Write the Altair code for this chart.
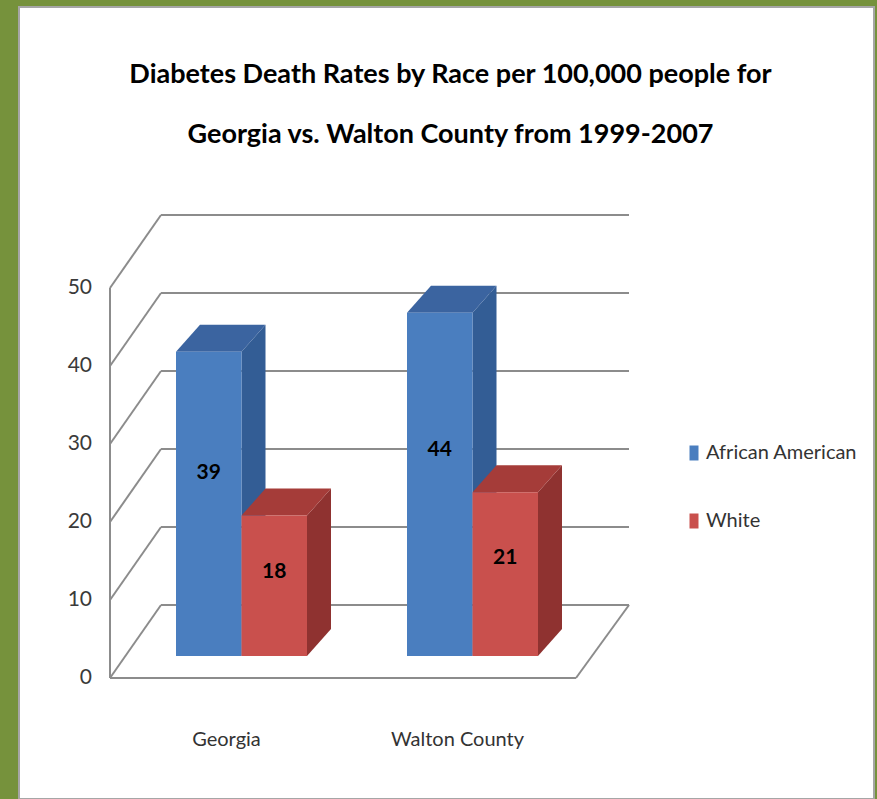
import altair as alt
import pandas as pd

# ---- data -------------------------------------------------------------
regions = ["Georgia", "Walton County"]
races = ["African American", "White"]
african_american = [39, 44]
white = [18, 21]
y_ticks = [0, 10, 20, 30, 40, 50]
title_lines = [
    "Diabetes Death Rates by Race per 100,000 people for",
    "Georgia vs. Walton County from 1999-2007",
]

# ---- colours ----------------------------------------------------------
FRONT = {"African American": "#4A7EBF", "White": "#C9504D"}
TOP = {"African American": "#3B64A0", "White": "#A53C39"}
SIDE = {"African American": "#335D95", "White": "#8F3230"}
GREEN = "#76923C"
LINE = "#8C8C8C"
FONT = "Lato"

# ---- canvas and pseudo-3D geometry (pixels / value units) -------------
PAD_L, PAD_T, PAD_R = 19, 7, 3
W, H = 877 - PAD_L - PAD_R, 799 - PAD_T
PX_PER_UNIT = 7.8
ZERO_Y = 671                      # row of value 0 on the front plane
Y_MAX = ZERO_Y / PX_PER_UNIT
Y_MIN = Y_MAX - H / PX_PER_UNIT

AXIS_X = 91                       # front-left edge of the box
FLOOR_RIGHT = 557                 # front-right corner of the floor
WALL_DX = 51                      # depth of the box, horizontal
WALL_DY = 73 / PX_PER_UNIT        # depth of the box, vertical
BAR_X0 = 157
GROUP_STEP = 231
BAR_W = 65.5
BAR_BASE = 22 / PX_PER_UNIT       # bars stand a little behind the floor edge
BAR_DX = 24                       # bar depth, horizontal
BAR_DY = 27 / PX_PER_UNIT         # bar depth, vertical
FRONT_SHIFT = 15
CAT_LABEL_Y = -62 / PX_PER_UNIT
TICK_LABEL_X = AXIS_X - 18

xs = alt.Scale(domain=[0, W], nice=False, zero=False)
ys = alt.Scale(domain=[Y_MIN, Y_MAX], nice=False, zero=False)

# ---- build the tables the marks are drawn from -------------------------
series = {"African American": african_american, "White": white}
bars, tops, sides = [], [], []
for gi, region in enumerate(regions):
    for ri, race in enumerate(races):
        v = series[race][gi]
        left = BAR_X0 + gi * GROUP_STEP + ri * BAR_W
        right = left + BAR_W
        base, top = BAR_BASE, BAR_BASE + v
        bid = f"{region}|{race}"
        bars.append(dict(region=region, race=race, value=v, left=left,
                         right=right, base=base, top=top,
                         cx=(left + right) / 2, ly=base + 0.6 * v))
        tops.append(dict(bid=bid, fc=TOP[race], y=top, xa=left, xb=right))
        tops.append(dict(bid=bid, fc=TOP[race], y=top + BAR_DY,
                         xa=left + BAR_DX, xb=right + BAR_DX))
        sides.append(dict(bid=bid, fc=SIDE[race], x=right, ya=base, yb=top))
        sides.append(dict(bid=bid, fc=SIDE[race], x=right + BAR_DX,
                          ya=base + BAR_DY, yb=top + BAR_DY))
bars = pd.DataFrame(bars)
tops = pd.DataFrame(tops)
sides = pd.DataFrame(sides)

lines = []
for t in y_ticks:
    # diagonal from the front axis to the back wall, then the wall gridline
    lines.append(dict(x=AXIS_X, x2=AXIS_X + WALL_DX, y=t, y2=t + WALL_DY))
    lines.append(dict(x=AXIS_X + WALL_DX, x2=FLOOR_RIGHT + WALL_DX + 2,
                      y=t + WALL_DY, y2=t + WALL_DY))
# floor front edge, floor right edge, front value axis
lines.append(dict(x=AXIS_X, x2=FLOOR_RIGHT, y=0, y2=0))
lines.append(dict(x=FLOOR_RIGHT, x2=FLOOR_RIGHT + WALL_DX + 2, y=0, y2=WALL_DY))
lines.append(dict(x=AXIS_X, x2=AXIS_X, y=0, y2=max(y_ticks)))
lines = pd.DataFrame(lines)

ticks = pd.DataFrame({"t": y_ticks, "tx": [TICK_LABEL_X] * len(y_ticks)})

cats = pd.DataFrame({
    "region": regions,
    "cx": [BAR_X0 + gi * GROUP_STEP + BAR_W - FRONT_SHIFT for gi in range(len(regions))],
    "cy": [CAT_LABEL_Y] * len(regions),
})

# ---- layers ------------------------------------------------------------
frame = alt.Chart(lines).mark_rule(color=LINE, strokeWidth=2).encode(
    x=alt.X("x:Q", scale=xs, axis=None),
    x2="x2:Q",
    y=alt.Y("y:Q", scale=ys, axis=None),
    y2="y2:Q",
)

tick_labels = alt.Chart(ticks).mark_text(
    font=FONT, fontSize=21, color="#3A3A3A", align="right", baseline="middle"
).encode(
    x=alt.X("tx:Q", scale=xs, axis=None),
    y=alt.Y("t:Q", scale=ys, axis=None),
    text="t:Q",
)

side_faces = alt.Chart(sides).mark_area(orient="vertical").encode(
    x=alt.X("x:Q", scale=xs, axis=None),
    y=alt.Y("ya:Q", scale=ys, axis=None),
    y2="yb:Q",
    detail="bid:N",
    fill=alt.Fill("fc:N", scale=None),
)

top_faces = alt.Chart(tops).mark_area(orient="horizontal").encode(
    y=alt.Y("y:Q", scale=ys, axis=None),
    x=alt.X("xa:Q", scale=xs, axis=None),
    x2="xb:Q",
    detail="bid:N",
    fill=alt.Fill("fc:N", scale=None),
)

front_faces = alt.Chart(bars).mark_rect().encode(
    x=alt.X("left:Q", scale=xs, axis=None),
    x2="right:Q",
    y=alt.Y("base:Q", scale=ys, axis=None),
    y2="top:Q",
    color=alt.Color(
        "race:N",
        scale=alt.Scale(domain=races, range=[FRONT[r] for r in races]),
        legend=alt.Legend(
            orient="none", legendX=665, legendY=436, title=None,
            padding=0, labelFont=FONT, labelFontSize=20,
            labelColor="#333333", labelOffset=2, rowPadding=48,
            symbolType="M-0.6,-1L0.6,-1L0.6,1L-0.6,1Z", symbolSize=225,
            symbolStrokeWidth=0,
        ),
    ),
)

value_labels = alt.Chart(bars).mark_text(
    font=FONT, fontSize=21, fontWeight="bold", color="black"
).encode(
    x=alt.X("cx:Q", scale=xs, axis=None),
    y=alt.Y("ly:Q", scale=ys, axis=None),
    text="value:Q",
)

cat_labels = alt.Chart(cats).mark_text(
    font=FONT, fontSize=20, color="#333333"
).encode(
    x=alt.X("cx:Q", scale=xs, axis=None),
    y=alt.Y("cy:Q", scale=ys, axis=None),
    text="region:N",
)

chart = (
    alt.layer(frame, tick_labels, side_faces, top_faces, front_faces,
              value_labels, cat_labels)
    .properties(
        width=W,
        height=H,
        autosize=alt.AutoSizeParams(type="none"),
        padding={"left": PAD_L, "top": PAD_T, "right": PAD_R, "bottom": 0},
        background=GREEN,
        title=alt.TitleParams(
            text=title_lines, font=FONT, fontSize=27, fontWeight="bold",
            color="black", anchor="middle", baseline="top", lineHeight=60,
            offset=0, dy=142, dx=4,
        ),
    )
    .configure_view(fill="white", stroke="#A6A6A6", strokeWidth=2)
)

chart.save("out.html", embed_options={"renderer": "svg", "actions": False})
